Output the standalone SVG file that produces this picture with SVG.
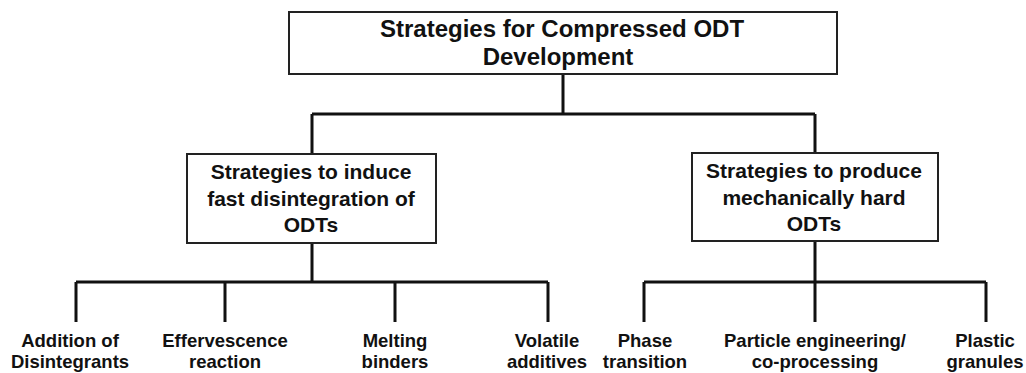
<svg xmlns="http://www.w3.org/2000/svg" width="1026" height="373" viewBox="0 0 1026 373">
<style>
.box{fill:#fff;stroke:#222;stroke-width:2}
.t{font-family:"Liberation Sans",Arial,sans-serif;font-weight:bold;fill:#111;text-anchor:middle}
.t1{font-size:24px}
.t2{font-size:21px}
.t3{font-size:18.5px}
.c{fill:none;stroke:#111;stroke-width:3}
</style>
<rect width="1026" height="373" fill="#fff"/>
<g id="connectors">
<path class="c" d="M563 74V114M312 114H815M312 114V154M815 114V153"/>
<path class="c" d="M312 243V282M76 282H548M76 282V322M225 282V322M395 282V322M548 282V322"/>
<path class="c" d="M815 241V322M644 282H986M644 282V322M986 282V322"/>
</g>
<g id="root">
<rect class="box" x="289" y="12" width="548" height="62"/>
<text class="t t1" x="562" y="37">Strategies for Compressed ODT</text>
<text class="t t1" x="558" y="65">Development</text>
</g>
<g id="fast">
<rect class="box" x="187" y="154" width="249" height="89"/>
<text class="t t2" x="311" y="179">Strategies to induce</text>
<text class="t t2" x="311" y="206">fast disintegration of</text>
<text class="t t2" x="311" y="232">ODTs</text>
</g>
<g id="hard">
<rect class="box" x="692" y="153" width="246" height="88"/>
<text class="t t2" x="814" y="178">Strategies to produce</text>
<text class="t t2" x="814" y="205">mechanically hard</text>
<text class="t t2" x="814" y="231">ODTs</text>
</g>
<g id="disintegrants">
<text class="t t3" x="70" y="347">Addition of</text>
<text class="t t3" x="70" y="368">Disintegrants</text>
</g>
<g id="effervescence">
<text class="t t3" x="225" y="347">Effervescence</text>
<text class="t t3" x="225" y="368">reaction</text>
</g>
<g id="melting">
<text class="t t3" x="395" y="347">Melting</text>
<text class="t t3" x="395" y="368">binders</text>
</g>
<g id="volatile">
<text class="t t3" x="547" y="347">Volatile</text>
<text class="t t3" x="547" y="368">additives</text>
</g>
<g id="phase">
<text class="t t3" x="645" y="347">Phase</text>
<text class="t t3" x="645" y="368">transition</text>
</g>
<g id="particle">
<text class="t t3" x="815" y="347">Particle engineering/</text>
<text class="t t3" x="815" y="368">co-processing</text>
</g>
<g id="plastic">
<text class="t t3" x="985" y="347">Plastic</text>
<text class="t t3" x="985" y="368">granules</text>
</g>
</svg>
